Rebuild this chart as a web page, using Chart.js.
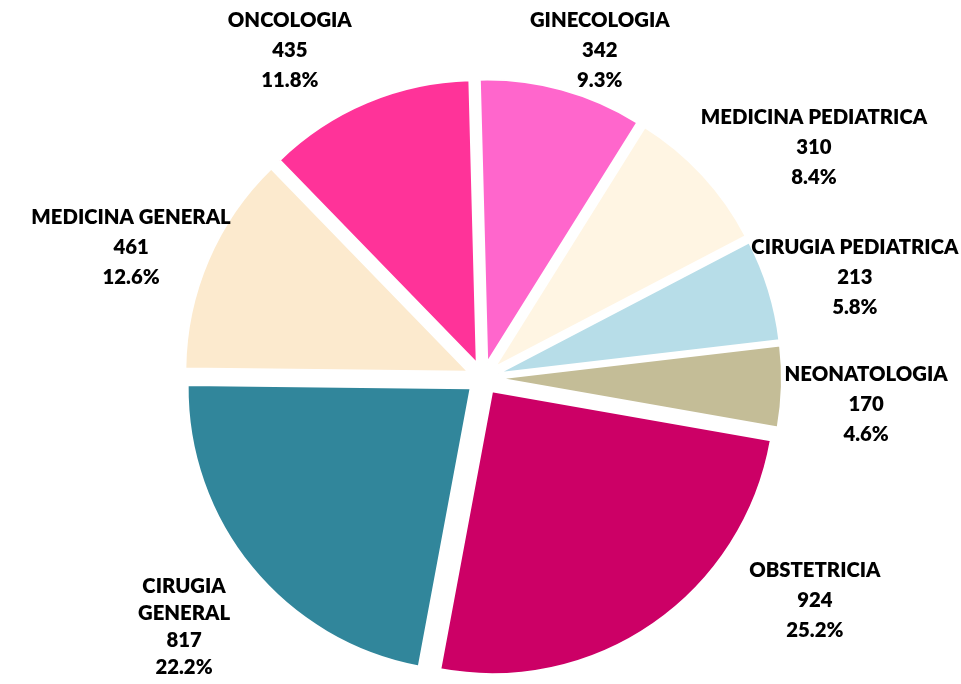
<!DOCTYPE html>
<html>
<head>
<meta charset="utf-8">
<title>Distribución por servicio</title>
<script src="https://cdn.jsdelivr.net/npm/chart.js@4.4.1/dist/chart.umd.min.js"></script>
<style>
  html, body { margin: 0; padding: 0; background: #fff; }
  #wrap { position: relative; width: 961px; height: 684px; }
</style>
</head>
<body>
<div id="wrap"><canvas id="pieChart"></canvas></div>
<script>
'use strict';

// datos (sentido horario desde arriba)
const categories = ['GINECOLOGIA', 'MEDICINA PEDIATRICA', 'CIRUGIA PEDIATRICA', 'NEONATOLOGIA',
  'OBSTETRICIA', 'CIRUGIA GENERAL', 'MEDICINA GENERAL', 'ONCOLOGIA'];
const values = [342, 310, 213, 170, 924, 817, 461, 435];
const sliceColors = ['#FF66CC', '#FFF5E3', '#B7DDE8', '#C4BD97',
  '#CC0066', '#31869B', '#FCEACE', '#FF3399'];

// posición de las etiquetas: ángulo (grados, horario desde arriba) y distancia en radios
const labelAngles = [19.6, 55.1, 74.9, 94.0, 123.8, 230.2, 290.3, 329.5];
const labelRadii = [1.230, 1.426, 1.361, 1.357, 1.411, 1.375, 1.326, 1.345];

const EXPLODE = 16;
const LABEL_FONT = '800 20.3px Lato, "Open Sans", sans-serif';

const total = values.reduce(function (a, b) { return a + b; }, 0);

function labelLines(i) {
  const name = categories[i] === 'CIRUGIA GENERAL' ? ['CIRUGIA', 'GENERAL'] : [categories[i]];
  return name.concat([String(values[i]), (values[i] / total * 100).toFixed(1) + '%']);
}

// separa cada porción del centro (como el "explode" de Excel)
const explodePlugin = {
  id: 'explode',
  afterDatasetsUpdate: function (chart) {
    chart.getDatasetMeta(0).data.forEach(function (arc) {
      const mid = (arc.startAngle + arc.endAngle) / 2;
      arc.x += Math.cos(mid) * EXPLODE;
      arc.y += Math.sin(mid) * EXPLODE;
    });
  }
};

const labelPlugin = {
  id: 'sliceLabels',
  afterDatasetsDraw: function (chart) {
    const ctx = chart.ctx;
    const area = chart.chartArea;
    const cx = (area.left + area.right) / 2;
    const cy = (area.top + area.bottom) / 2;
    const r = chart.getDatasetMeta(0).controller.outerRadius;

    ctx.save();
    ctx.font = LABEL_FONT;
    ctx.fillStyle = '#000';
    ctx.textAlign = 'center';
    ctx.textBaseline = 'middle';
    categories.forEach(function (c, i) {
      const a = labelAngles[i] * Math.PI / 180;
      const x = cx + Math.sin(a) * r * labelRadii[i];
      const y = cy - Math.cos(a) * r * labelRadii[i];
      const lines = labelLines(i);
      const lh = lines.length > 3 ? 27 : 30;
      const top = y - (lines.length - 1) * lh / 2;
      lines.forEach(function (t, k) { ctx.fillText(t, x, top + k * lh); });
    });
    ctx.restore();
  }
};

new Chart(document.getElementById('pieChart'), {
  type: 'pie',
  data: {
    labels: categories,
    datasets: [{
      data: values,
      backgroundColor: sliceColors,
      borderColor: '#ffffff',
      borderWidth: 2
    }]
  },
  options: {
    responsive: true,
    maintainAspectRatio: false,
    animation: false,
    rotation: -1.5,
    layout: { padding: { top: 94, bottom: 22, left: 199, right: 194 } },
    plugins: {
      legend: { display: false },
      tooltip: { enabled: false }
    }
  },
  plugins: [explodePlugin, labelPlugin]
});
</script>
</body>
</html>
